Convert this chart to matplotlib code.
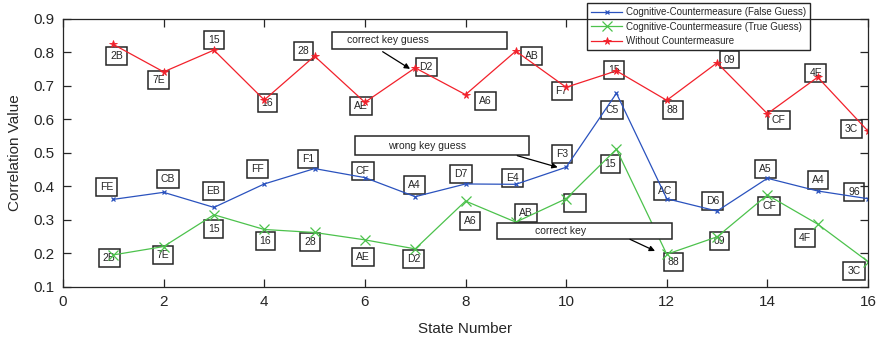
import matplotlib
matplotlib.use("Agg")
import matplotlib.pyplot as plt
from matplotlib.patches import Rectangle

plt.rcParams["font.family"] = ["Liberation Sans", "DejaVu Sans"]

states = list(range(1, 17))

false_guess = [0.361, 0.382, 0.337, 0.407, 0.453, 0.426, 0.369, 0.407,
               0.406, 0.457, 0.678, 0.363, 0.326, 0.424, 0.386, 0.363]
true_guess = [0.195, 0.220, 0.315, 0.271, 0.262, 0.240, 0.213, 0.356,
              0.293, 0.363, 0.511, 0.197, 0.249, 0.374, 0.287, 0.175]
no_counter = [0.824, 0.742, 0.807, 0.658, 0.789, 0.651, 0.754, 0.674,
              0.804, 0.696, 0.745, 0.657, 0.769, 0.617, 0.726, 0.565]

false_keys = ["FE", "CB", "EB", "FF", "F1", "CF", "A4", "D7",
              "E4", "F3", "C5", "AC", "D6", "A5", "A4", "96"]
true_keys = ["2B", "7E", "15", "16", "28", "AE", "D2", "A6",
             "AB", "", "15", "88", "09", "CF", "4F", "3C"]
no_counter_keys = ["2B", "7E", "15", "16", "28", "AE", "D2", "A6",
                   "AB", "F7", "15", "88", "09", "CF", "4E", "3C"]

# label box offsets from each point, in points
false_off = [(-4.8, 9.1), (3.1, 9.4), (-0.4, 12), (-4.8, 10.6), (-4.8, 7),
             (-1.4, 5), (-0.5, 8.2), (-3.3, 7), (-2.4, 4.3), (-2.7, 9.6),
             (-3.2, -12), (-1.4, 5.5), (-3.1, 7), (-1.4, 6.9), (0.2, 7.9),
             (-10.1, 4.6)]
true_off = [(-2.9, -2.2), (-0.5, -6), (-0.2, -10.5), (0.9, -8.4), (-3.1, -7),
            (-1.4, -12.5), (-1.2, -7), (3.4, -14.4), (7.4, 6.3), (6.5, -2.9),
            (-4.3, -10.8), (4.8, -5.8), (1.9, -3.1), (1.4, -7.7), (-9.1, -9.9),
            (-10.1, -6.7)]
no_counter_off = [(2.4, -8.2), (-3.6, -6), (0, 7.2), (2.2, -2.2), (-7.9, 3.8),
                  (-2.9, -2.9), (7.9, 0.9), (14.4, -4.5), (11.2, -3.8),
                  (-3.2, -2.9), (-1.9, 0.5), (4.3, -7.2), (8.9, 2.4),
                  (8.1, -4.5), (-1.4, 2.9), (-11.7, 1.7)]

BLUE = "#2a52be"
GREEN = "#4cc24c"
RED = "#f2212b"
INK = "#262626"

fig = plt.figure(figsize=(8.8, 3.4), dpi=100)
ax = fig.add_axes([63 / 880, 1 - 286.7 / 340, 805 / 880, 267.7 / 340])

ax.plot(states, false_guess, color=BLUE, lw=0.9, marker="x", ms=3.5, mew=0.9,
        label="Cognitive-Countermeasure (False Guess)")
ax.plot(states, true_guess, color=GREEN, lw=0.9, marker="x", ms=7, mew=0.9,
        label="Cognitive-Countermeasure (True Guess)")
ax.plot(states, no_counter, color=RED, lw=0.9, marker="*", ms=5.5, mew=0.6,
        label="Without Countermeasure")

box = dict(boxstyle="square,pad=0.38", fc="white", ec=INK, lw=1.1)


def key_labels(ys, keys, offsets):
    for x, y, k, (dx, dy) in zip(states, ys, keys, offsets):
        ax.annotate(k if k else "     ", (x, y), xytext=(dx, dy),
                    textcoords="offset points", ha="center", va="center",
                    fontsize=7.5, color=INK, bbox=box, zorder=1.5,
                    annotation_clip=False)


key_labels(false_guess, false_keys, false_off)
key_labels(true_guess, true_keys, true_off)
key_labels(no_counter, no_counter_keys, no_counter_off)

# text boxes with arrows
notes = [
    ("correct key guess", (0.3338, 0.8868, 0.2174, 0.0635), (0.4037, 0.9216),
     (0.3971, 0.8779), (0.4311, 0.8137)),
    ("wrong key guess", (0.3627, 0.4920, 0.2166, 0.0720), (0.4518, 0.5267),
     (0.5643, 0.4894), (0.6145, 0.4460)),
    ("correct key", (0.5388, 0.1782, 0.2181, 0.0586), (0.6186, 0.2092),
     (0.7043, 0.1771), (0.7354, 0.1334)),
]
for text, (bx, by, bw, bh), tpos, start, end in notes:
    ax.add_patch(Rectangle((bx, by), bw, bh, transform=ax.transAxes,
                           fc="white", ec=INK, lw=1.1, zorder=3,
                           clip_on=False))
    ax.text(*tpos, text, transform=ax.transAxes, ha="center", va="center",
            fontsize=7.5, color=INK, zorder=3.1)
    ax.annotate("", xy=end, xytext=start, xycoords="axes fraction",
                textcoords="axes fraction",
                arrowprops=dict(arrowstyle="-|>", color="black", lw=0.9,
                                mutation_scale=8, shrinkA=0, shrinkB=0),
                zorder=3.1)

ax.set_xlim(0, 16)
ax.set_ylim(0.1, 0.9)
ax.set_xticks(range(0, 17, 2))
ax.set_yticks([0.1, 0.2, 0.3, 0.4, 0.5, 0.6, 0.7, 0.8, 0.9])
ax.tick_params(direction="in", top=True, right=True, length=5.5, width=0.9,
               labelsize=11, colors=INK, pad=6)
for s in ax.spines.values():
    s.set_color(INK)
    s.set_linewidth(0.9)
    s.set_zorder(2.6)
ax.xaxis.set_zorder(2.3)
ax.yaxis.set_zorder(2.3)

ax.set_xlabel("State Number", fontsize=11, color=INK, labelpad=9)
ax.set_ylabel("Correlation Value", fontsize=11, color=INK, labelpad=8)

leg = ax.legend(loc="upper right", bbox_to_anchor=(810 / 880, 1 - 3.3 / 340),
                bbox_transform=fig.transFigure, fontsize=7, frameon=True,
                fancybox=False, edgecolor=INK, framealpha=1,
                handlelength=3.2, labelspacing=0.45, borderpad=0.4,
                borderaxespad=0, handletextpad=0.4)
leg.get_frame().set_linewidth(1.0)
leg.set_zorder(2.4)
for t in leg.get_texts():
    t.set_color(INK)

fig.savefig("out.png", dpi=100)
